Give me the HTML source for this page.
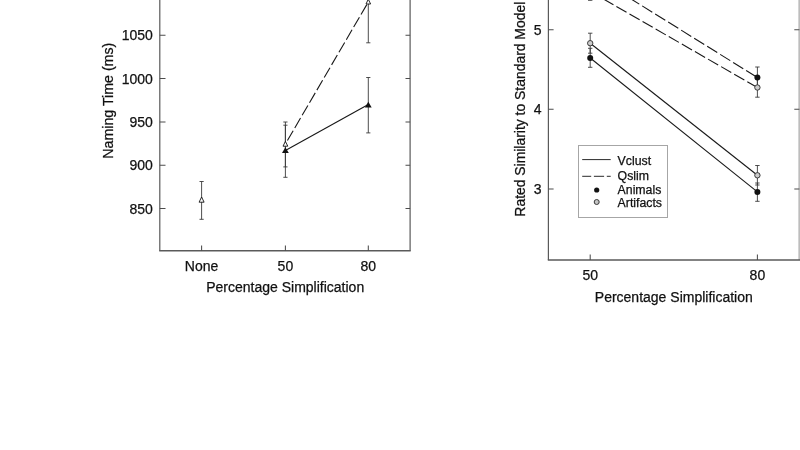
<!DOCTYPE html>
<html>
<head>
<meta charset="utf-8">
<title>Figure</title>
<style>
html,body{margin:0;padding:0;background:#fff;}
body{width:800px;height:450px;overflow:hidden;}
svg{display:block;will-change:transform;}
text{font-family:"Liberation Sans",Arial,Helvetica,sans-serif;fill:#111;stroke:#111;stroke-width:0.25;}
.ax{stroke:#5a5a5a;stroke-width:1.2;fill:none;}
.axb{stroke:#5a5a5a;stroke-width:1.6;fill:none;}
.tk{stroke:#4c4c4c;stroke-width:1.05;fill:none;}
.ln{stroke:#181818;stroke-width:1.1;fill:none;}
.eb{stroke:#3a3a3a;stroke-width:0.9;fill:none;}
.t14{font-size:14px;}
.t12{font-size:12.3px;}
</style>
</head>
<body>
<svg width="800" height="450" viewBox="0 0 800 450">
<rect x="0" y="0" width="800" height="450" fill="#fff"/>

<!-- ================= LEFT CHART ================= -->
<g id="left">
  <!-- axes -->
  <path class="ax" d="M159.8 0V250.8M410.1 0V250.8"/>
  <path class="axb" d="M159.2 250.8H410.7"/>
  <!-- left ticks -->
  <path class="tk" d="M159.8 35.3H165.5M159.8 78.5H165.5M159.8 121.9H165.5M159.8 165.2H165.5M159.8 208.5H165.5"/>
  <!-- right ticks -->
  <path class="tk" d="M410.1 35.3H405.5M410.1 78.5H405.5M410.1 121.9H405.5M410.1 165.2H405.5M410.1 208.5H405.5"/>
  <!-- bottom ticks -->
  <path class="tk" d="M201.6 250.8V245.5M285.4 250.8V245.5M368.3 250.8V245.5"/>
  <!-- y tick labels -->
  <text class="t14" x="152.8" y="40.3" text-anchor="end">1050</text>
  <text class="t14" x="152.8" y="83.6" text-anchor="end">1000</text>
  <text class="t14" x="152.8" y="127" text-anchor="end">950</text>
  <text class="t14" x="152.8" y="170.3" text-anchor="end">900</text>
  <text class="t14" x="152.8" y="213.6" text-anchor="end">850</text>
  <!-- x tick labels -->
  <text class="t14" x="201.6" y="270.9" text-anchor="middle">None</text>
  <text class="t14" x="285.4" y="270.9" text-anchor="middle">50</text>
  <text class="t14" x="368.3" y="270.9" text-anchor="middle">80</text>
  <text class="t14" x="285.2" y="292.4" text-anchor="middle">Percentage Simplification</text>
  <text style="font-size:14.2px" transform="translate(113.2 100.7) rotate(-90)" text-anchor="middle">Naming Time (ms)</text>

  <!-- error bars -->
  <path class="eb" d="M201.6 181.5V219.3M199.5 181.5H203.7M199.5 219.3H203.7"/>
  <path class="eb" d="M285.4 122V166.9M283.3 122H287.5M283.3 166.9H287.5"/>
  <path class="eb" d="M285.4 125.2V177.3M283.3 125.2H287.5M283.3 177.3H287.5"/>
  <path class="eb" d="M368.3 -37V42.8M366.2 42.8H370.4"/>
  <path class="eb" d="M368.3 77.5V132.9M366.2 77.5H370.4M366.2 132.9H370.4"/>

  <!-- lines -->
  <path class="ln" d="M285.4 144L368.3 2" stroke-dasharray="11.4 3.2" stroke-dashoffset="-4"/>
  <path class="ln" d="M285.4 150.5L368.3 104.6"/>

  <!-- markers -->
  <path d="M201.6 197L204.1 202.2H199.1L201.6 197Z" fill="#fff" stroke="#111" stroke-width="0.9"/>
  <path d="M285.4 141.4L287.8 146.2H283L285.4 141.4Z" fill="#fff" stroke="#111" stroke-width="0.9"/>
  <path d="M368.3 -0.8L370.6 4H366L368.3 -0.8Z" fill="#fff" stroke="#111" stroke-width="0.9"/>
  <path d="M285.4 147.3L288.8 153.1H282Z" fill="#111"/>
  <path d="M368.3 101.7L371.7 107.5H364.9Z" fill="#111"/>
</g>

<!-- ================= RIGHT CHART ================= -->
<g id="right">
  <path class="ax" d="M548.4 0V260"/>
  <path d="M799.2 0V260" stroke="#bdbdbd" stroke-width="1.7" fill="none"/>
  <path class="axb" d="M547.8 260H800"/>
  <!-- left ticks -->
  <path class="tk" d="M548.4 29.8H553.6M548.4 109.2H553.6M548.4 188.9H553.6"/>
  <!-- right ticks -->
  <path class="tk" d="M799.4 29.8H794.3M799.4 109.2H794.3M799.4 188.9H794.3"/>
  <!-- bottom ticks -->
  <path class="tk" d="M590.2 260V254.5M757.4 260V254.5"/>
  <!-- labels -->
  <text class="t14" x="541.5" y="34.8" text-anchor="end">5</text>
  <text class="t14" x="541.5" y="114" text-anchor="end">4</text>
  <text class="t14" x="541.5" y="193.7" text-anchor="end">3</text>
  <text class="t14" x="590.2" y="279.9" text-anchor="middle">50</text>
  <text class="t14" x="757.4" y="279.9" text-anchor="middle">80</text>
  <text class="t14" x="673.8" y="302.3" text-anchor="middle">Percentage Simplification</text>
  <text style="font-size:13.92px" transform="translate(524.8 109.2) rotate(-90)" text-anchor="middle">Rated Similarity to Standard Model</text>

  <!-- error bars -->
  <path class="eb" d="M590.2 33.2V53.2M588 33.2H592.4M588 53.2H592.4"/>
  <path class="eb" d="M590.2 48.3V67.3M588 48.3H592.4M588 67.3H592.4"/>
  <path class="eb" d="M590.2 -20V0.3M588 0.3H592.4"/>
  <path class="eb" d="M757.4 67V88M755.2 67H759.6M755.2 88H759.6"/>
  <path class="eb" d="M757.4 78V97.2M755.2 78H759.6M755.2 97.2H759.6"/>
  <path class="eb" d="M757.4 165.5V185M755.2 165.5H759.6M755.2 185H759.6"/>
  <path class="eb" d="M757.4 183V201.3M755.2 183H759.6M755.2 201.3H759.6"/>

  <!-- lines -->
  <path class="ln" d="M590.2 43.2L757.4 175.3"/>
  <path class="ln" d="M590.2 58L757.4 191.9"/>
  <path class="ln" d="M590.2 -26.4L757.4 77.5" stroke-dasharray="11.9 3.4"/>
  <path class="ln" d="M590.2 -8.6L757.4 87.5" stroke-dasharray="11.7 3.4"/>

  <!-- markers -->
  <circle cx="590.2" cy="43.2" r="2.7" fill="#ccc" stroke="#2a2a2a" stroke-width="0.9"/>
  <circle cx="590.2" cy="58" r="3" fill="#111"/>
  <circle cx="757.4" cy="77.5" r="3" fill="#111"/>
  <circle cx="757.4" cy="87.5" r="2.7" fill="#ccc" stroke="#2a2a2a" stroke-width="0.9"/>
  <circle cx="757.4" cy="175.3" r="2.7" fill="#ccc" stroke="#2a2a2a" stroke-width="0.9"/>
  <circle cx="757.4" cy="191.9" r="3" fill="#111"/>

  <!-- legend -->
  <rect x="578.5" y="145.5" width="89" height="72" fill="#fff" stroke="#a6a6a6" stroke-width="1"/>
  <path d="M582.2 159.6H610.7" stroke="#2a2a2a" stroke-width="1" fill="none"/>
  <path d="M582.2 176.3H610.7" stroke="#2a2a2a" stroke-width="1" fill="none" stroke-dasharray="9 2.7 10.2 2.7 10 3"/>
  <circle cx="596.7" cy="190" r="2.6" fill="#111"/>
  <circle cx="596.7" cy="202" r="2.5" fill="#c4c4c4" stroke="#3a3a3a" stroke-width="1"/>
  <text class="t12" x="617.6" y="164.9">Vclust</text>
  <text class="t12" x="617.6" y="179.8">Qslim</text>
  <text class="t12" x="617.6" y="194.2">Animals</text>
  <text class="t12" x="617.6" y="206.5">Artifacts</text>
</g>
</svg>
</body>
</html>
